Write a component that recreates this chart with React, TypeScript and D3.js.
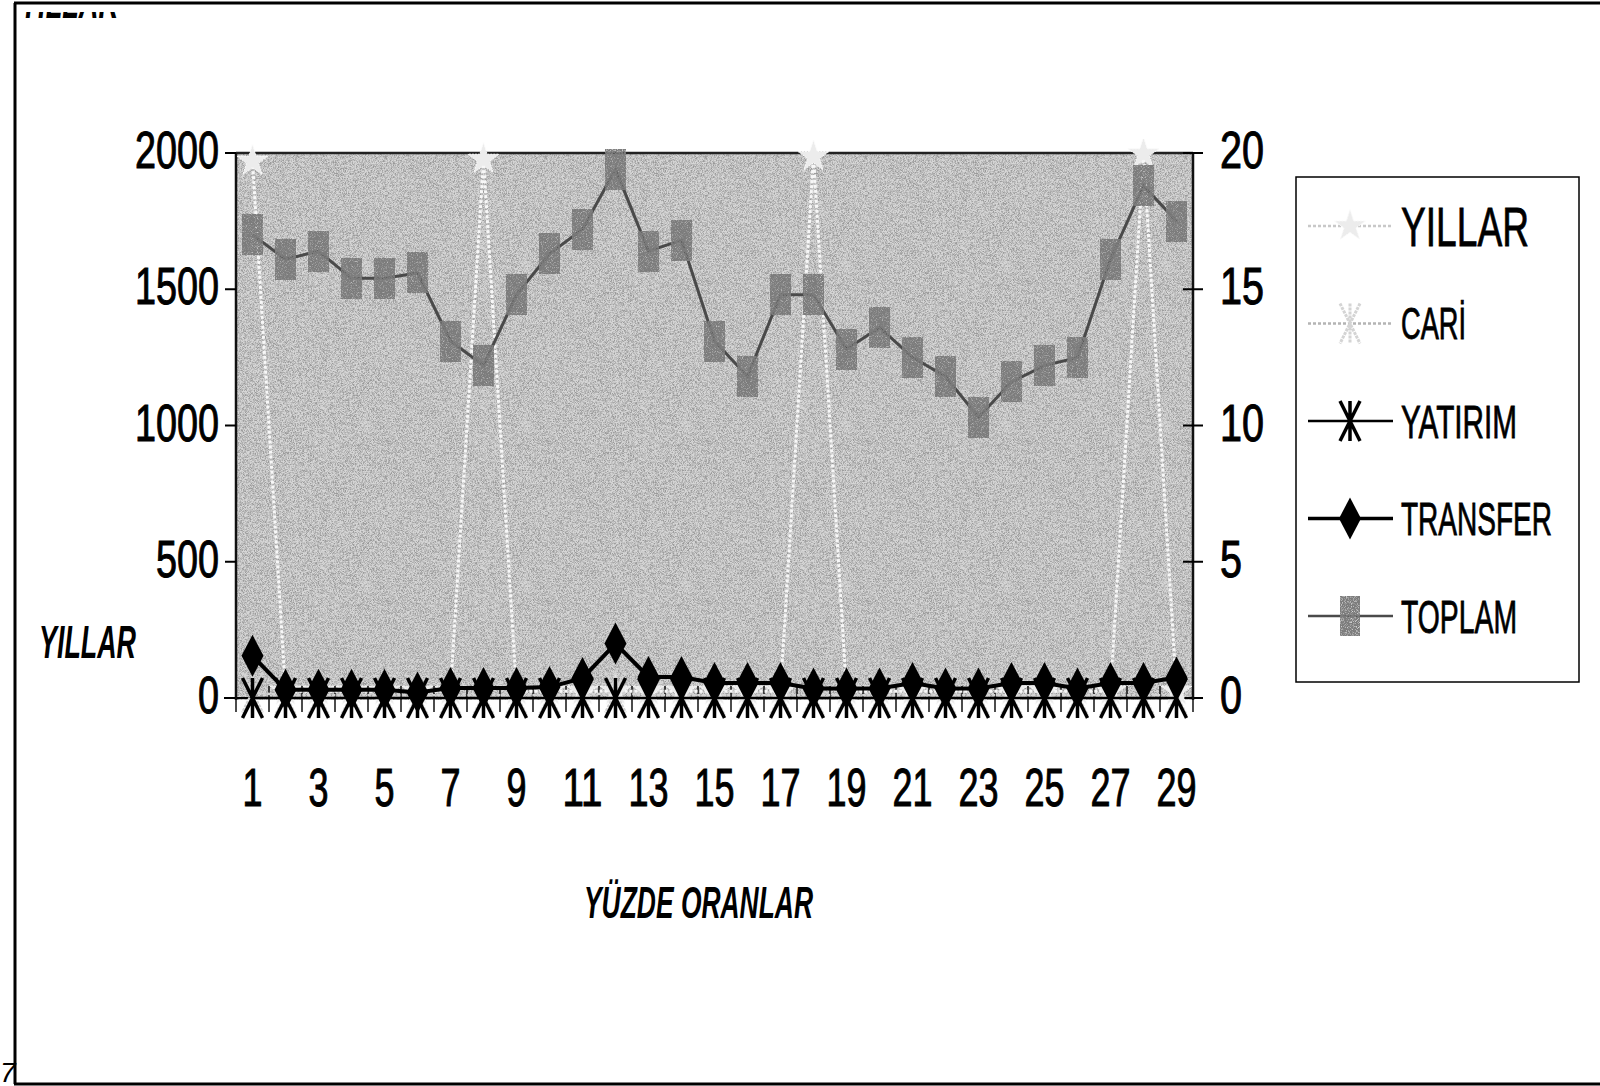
import * as d3 from "d3";

const CATEGORIES = [1, 2, 3, 4, 5, 6, 7, 8, 9, 10, 11, 12, 13, 14, 15, 16, 17, 18, 19, 20, 21, 22, 23, 24, 25, 26, 27, 28, 29];
const X_LABELS = [1, 3, 5, 7, 9, 11, 13, 15, 17, 19, 21, 23, 25, 27, 29];
const LEFT_TICKS = [0, 500, 1000, 1500, 2000];
const RIGHT_TICKS = [0, 5, 10, 15, 20];

// left axis
const YILLAR = [1970, 25, 25, 25, 25, 25, 25, 1977, 25, 25, 25, 25, 25, 25, 25, 25, 25, 1987, 25, 25, 25, 25, 25, 25, 25, 25, 25, 1997, 25];
// right axis (%)
const CARI = [0.2, 0.1, 0.1, 0.1, 0.1, 0.1, 0.1, 0.1, 0.1, 0.1, 0.1, 0.2, 0.1, 0.1, 0.1, 0.1, 0.1, 0.1, 0.1, 0.1, 0.1, 0.1, 0.1, 0.1, 0.1, 0.1, 0.1, 0.1, 0.1];
const YATIRIM = [0, 0, 0, 0, 0, 0, 0, 0, 0, 0, 0, 0, 0, 0, 0, 0, 0, 0, 0, 0, 0, 0, 0, 0, 0, 0, 0, 0, 0];
const TRANSFER = [1.55, 0.3, 0.3, 0.3, 0.3, 0.2, 0.37, 0.37, 0.37, 0.4, 0.73, 2.0, 0.77, 0.77, 0.55, 0.55, 0.55, 0.35, 0.35, 0.35, 0.55, 0.35, 0.35, 0.55, 0.55, 0.35, 0.55, 0.55, 0.75];
const TOPLAM = [17.0, 16.1, 16.4, 15.4, 15.4, 15.6, 13.1, 12.2, 14.8, 16.3, 17.2, 19.4, 16.4, 16.8, 13.1, 11.8, 14.8, 14.8, 12.8, 13.6, 12.5, 11.8, 10.3, 11.6, 12.2, 12.5, 16.1, 18.8, 17.5];

const LEGEND = ["YILLAR", "CARİ", "YATIRIM", "TRANSFER", "TOPLAM"];

const W = 1600;
const H = 1086;
const P = { left: 236, right: 1193, top: 153, bottom: 698 };
const FONT = "'Liberation Sans', Arial, sans-serif";

const ASTERISK = "M0,-20V20M-10,-20L10,20M10,-20L-10,20";
const DIAMOND = "M0,-21L11,0L0,21L-11,0Z";
const STAR = d3.symbol().type(d3.symbolStar).size(300)() as string;

function Marker({ kind, x, y }: { kind: number; x: number; y: number }) {
  const t = `translate(${x},${y})`;
  if (kind === 0) return <path d={STAR} transform={t} fill="#ececec" stroke="#fafafa" strokeWidth={1} strokeDasharray="2,1" />;
  if (kind === 1) return <path d={ASTERISK} transform={t} fill="none" stroke="#d4d4d4" strokeWidth={3} strokeDasharray="3,1" />;
  if (kind === 2) return <path d={ASTERISK} transform={t} fill="none" stroke="#000" strokeWidth={3.5} />;
  if (kind === 3) return <path d={DIAMOND} transform={t} fill="#000" />;
  return <rect x={x - 10} y={y - 20} width={20} height={40} fill="#6b6b6b" filter="url(#grainDark)" />;
}

export default function App() {
  const x = d3.scaleBand<number>().domain(CATEGORIES).range([P.left, P.right]).padding(0);
  const cx = (c: number) => (x(c) as number) + x.bandwidth() / 2;
  const yL = d3.scaleLinear().domain([0, 2000]).range([P.bottom, P.top]);
  const yR = d3.scaleLinear().domain([0, 20]).range([P.bottom, P.top]);

  const lineL = d3.line<number>().x((_, i) => cx(CATEGORIES[i])).y((d) => yL(d));
  const lineR = d3.line<number>().x((_, i) => cx(CATEGORIES[i])).y((d) => yR(d));

  const series = [
    { values: YILLAR, line: lineL, y: yL, stroke: "#f7f7f7", width: 3, dash: "3,2" },
    { values: CARI, line: lineR, y: yR, stroke: "#d4d4d4", width: 2.5, dash: "3,2" },
    { values: YATIRIM, line: lineR, y: yR, stroke: "#000", width: 2.5, dash: undefined },
    { values: TRANSFER, line: lineR, y: yR, stroke: "#000", width: 4, dash: undefined },
    { values: TOPLAM, line: lineR, y: yR, stroke: "#4a4a4a", width: 3, dash: undefined },
  ];

  const boundaries = d3.range(CATEGORIES.length + 1).map((i) => P.left + i * x.bandwidth());

  const legendTop = 226;
  const legendStep = 97.5;
  const legendSizes = [56, 44, 46, 46, 46];
  const legendWidths = [128, 65, 116, 151, 116];

  return (
    <svg width={W} height={H} style={{ position: "absolute", left: 0, top: 0, display: "block", background: "#fff" }}>
      <defs>
        <filter id="grain" x="0" y="0" width="100%" height="100%">
          <feTurbulence type="fractalNoise" baseFrequency="1.6" numOctaves="1" seed="4" result="n" />
          <feColorMatrix in="n" type="matrix" values="0 0 0 0 0  0 0 0 0 0  0 0 0 0 0  3.2 0 0 0 -1.25" />
        </filter>
        <filter id="grainDark" x="0" y="0" width="100%" height="100%">
          <feTurbulence type="fractalNoise" baseFrequency="1.2" numOctaves="1" seed="9" result="n" />
          <feColorMatrix in="n" type="matrix" values="0 0 0 0 0.2  0 0 0 0 0.2  0 0 0 0 0.2  2.5 0 0 0 -0.3" />
        </filter>
        <clipPath id="topClip">
          <rect x={15} y={12} width={130} height={6} />
        </clipPath>
        <clipPath id="plotClip">
          <rect x={P.left} y={P.top - 14} width={P.right - P.left} height={P.bottom - P.top + 40} />
        </clipPath>
      </defs>

      {/* page frame */}
      <line x1={14} y1={3} x2={W} y2={3} stroke="#000" strokeWidth={3} />
      <line x1={15} y1={3} x2={15} y2={1084} stroke="#000" strokeWidth={3} />
      <line x1={14} y1={1084} x2={W} y2={1084} stroke="#000" strokeWidth={3} />
      <text x={0} y={1082} fontFamily={FONT} fontSize={28} fontStyle="italic" fill="#000">7</text>
      <g clipPath="url(#topClip)">
        <text x={20} y={18} fontFamily={FONT} fontSize={46} fontStyle="italic" fontWeight="bold" textLength={98} lengthAdjust="spacingAndGlyphs">YILLAR</text>
      </g>

      {/* plot area */}
      <rect x={P.left} y={P.top} width={P.right - P.left} height={P.bottom - P.top + 2} fill="#d6d6d6" />
      <rect x={P.left} y={P.top} width={P.right - P.left} height={P.bottom - P.top + 2} fill="#000" opacity={0.28} filter="url(#grain)" />
      <line x1={P.left} y1={P.top} x2={P.right} y2={P.top} stroke="#222" strokeWidth={2.5} />
      <line x1={P.left} y1={P.top} x2={P.left} y2={P.bottom + 2} stroke="#111" strokeWidth={2.5} />
      <line x1={P.right} y1={P.top} x2={P.right} y2={P.bottom + 2} stroke="#111" strokeWidth={2.5} />
      <line x1={P.left - 12} y1={P.bottom} x2={P.right} y2={P.bottom} stroke="#000" strokeWidth={2} />

      {/* left axis */}
      {LEFT_TICKS.map((t) => (
        <g key={`l${t}`}>
          <line x1={P.left - 11} x2={P.left} y1={yL(t)} y2={yL(t)} stroke="#000" strokeWidth={2} />
          <text x={219} y={yL(t) + 15} textAnchor="end" fontFamily={FONT} fontSize={51} fill="#000" stroke="#000" strokeWidth={1}
            textLength={String(t).length * 21} lengthAdjust="spacingAndGlyphs">{t}</text>
        </g>
      ))}
      {/* right axis */}
      {RIGHT_TICKS.map((t) => (
        <g key={`r${t}`}>
          <line x1={P.right - 10} x2={P.right + 10} y1={yR(t)} y2={yR(t)} stroke="#000" strokeWidth={2} />
          <text x={1220} y={yR(t) + 15} textAnchor="start" fontFamily={FONT} fontSize={51} fill="#000" stroke="#000" strokeWidth={1}
            textLength={String(t).length * 22} lengthAdjust="spacingAndGlyphs">{t}</text>
        </g>
      ))}
      {/* category axis tick marks (cross) */}
      {boundaries.map((b, i) => (
        <line key={`b${i}`} x1={b} x2={b} y1={P.bottom - 12} y2={P.bottom + 14} stroke="#111" strokeWidth={1.5} />
      ))}
      {X_LABELS.map((c) => (
        <text key={`x${c}`} x={cx(c)} y={806} textAnchor="middle" fontFamily={FONT} fontSize={53} fill="#000" stroke="#000" strokeWidth={1}
          textLength={String(c).length * 20} lengthAdjust="spacingAndGlyphs">{c}</text>
      ))}

      {/* axis titles */}
      <text x={39} y={658} fontFamily={FONT} fontSize={46} fontStyle="italic" fontWeight="bold" textLength={97} lengthAdjust="spacingAndGlyphs">YILLAR</text>
      <text x={584} y={918} fontFamily={FONT} fontSize={45} fontStyle="italic" fontWeight="bold" textLength={229} lengthAdjust="spacingAndGlyphs">YÜZDE ORANLAR</text>

      {/* series */}
      <g clipPath="url(#plotClip)">
        {series.map((s, k) => (
          <g key={`s${k}`}>
            <path d={s.line(s.values) as string} fill="none" stroke={s.stroke} strokeWidth={s.width} strokeDasharray={s.dash} />
            {s.values.map((v, i) => (
              <Marker key={i} kind={k} x={cx(CATEGORIES[i])} y={s.y(v)} />
            ))}
          </g>
        ))}
      </g>

      {/* legend */}
      <rect x={1296} y={177} width={283} height={505} fill="#fff" stroke="#000" strokeWidth={1.5} />
      {LEGEND.map((name, k) => {
        const ly = legendTop + k * legendStep;
        const s = series[k];
        return (
          <g key={name}>
            <line x1={1308} x2={1393} y1={ly} y2={ly} stroke={k === 0 ? "#c8c8c8" : k === 1 ? "#b4b4b4" : s.stroke} strokeWidth={k === 3 ? 3.5 : 2.5} strokeDasharray={s.dash} />
            <Marker kind={k} x={1350} y={ly} />
            <text x={1401} y={ly + legendSizes[k] * 0.36} fontFamily={FONT} fontSize={legendSizes[k]} fill="#000" stroke="#000" strokeWidth={0.8}
              textLength={legendWidths[k]} lengthAdjust="spacingAndGlyphs">{name}</text>
          </g>
        );
      })}
    </svg>
  );
}
